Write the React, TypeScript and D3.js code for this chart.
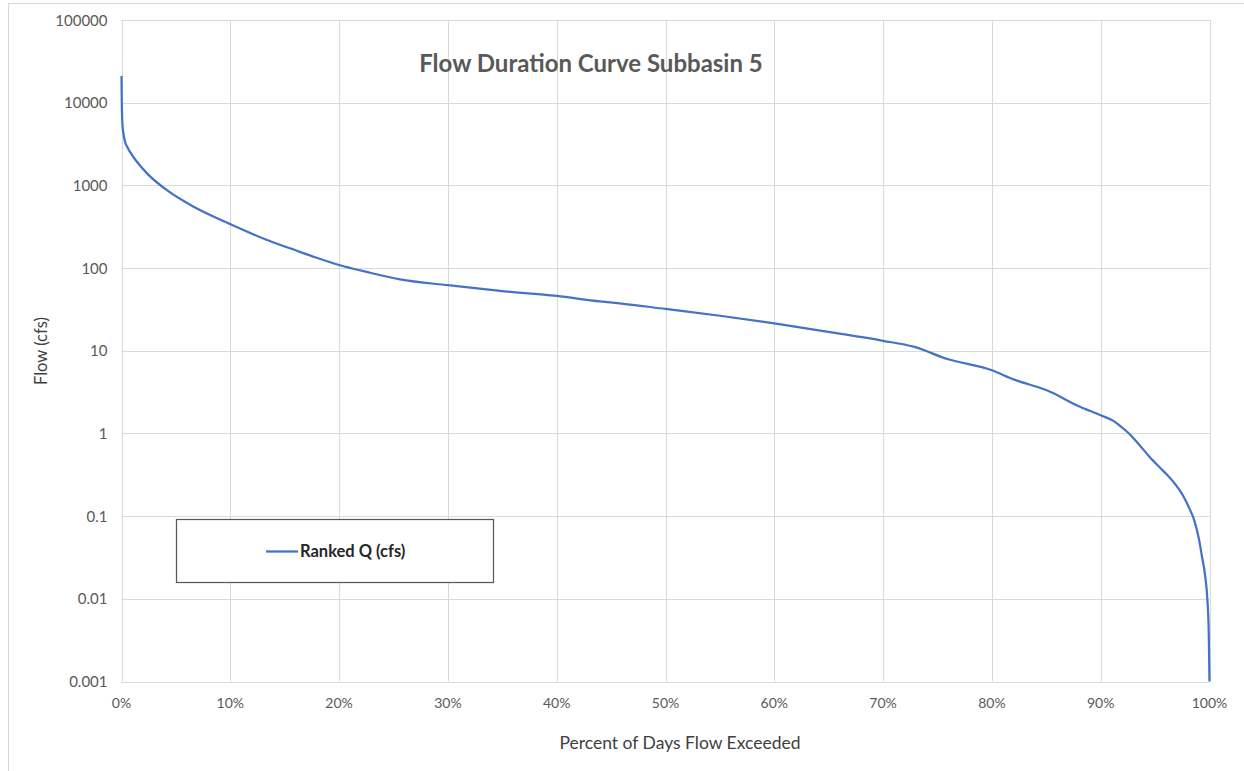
import React, { useRef, useEffect } from 'react';
import * as d3 from 'd3';

// ranked flow: percent of days exceeded vs flow (cfs)
const exceedPct = [
  0, 0.03, 0.08, 0.17, 0.32, 0.6, 0.94, 1.6, 2.46, 4.3, 6.76, 10, 13.2, 16.4,
  17.8, 20, 22.5, 25.6, 30, 34.8, 40, 44, 45.8, 50, 55, 60, 65.4, 70, 72.8,
  75.9, 80, 82, 85.1, 88.1, 90, 91.2, 91.8, 92.6, 93.5, 94.5, 95.5, 96.1, 97,
  97.6, 98.2, 98.6, 99, 99.3, 99.6, 99.8, 99.93, 100,
];
const flowCfs = [
  21000, 9500, 5600, 4300, 3400, 2800, 2360, 1800, 1350, 850, 540, 340, 223,
  157, 135, 109, 90, 73, 62, 53, 46, 39.5, 37.5, 32, 26.5, 21.4, 16.6, 13.2,
  11.2, 7.95, 5.8, 4.5, 3.3, 2.1, 1.66, 1.41, 1.23, 1.0, 0.74, 0.52, 0.38,
  0.316, 0.229, 0.174, 0.12, 0.089, 0.055, 0.033, 0.019, 0.01, 0.004, 0.001,
];

const yTicks = [0.001, 0.01, 0.1, 1, 10, 100, 1000, 10000, 100000];
const xTicks = [0, 10, 20, 30, 40, 50, 60, 70, 80, 90, 100];

const title = 'Flow Duration Curve Subbasin 5';
const xTitle = 'Percent of Days Flow Exceeded';
const yTitle = 'Flow (cfs)';
const seriesName = 'Ranked Q (cfs)';

function App() {
  const svgRef = useRef(null);
  const width = 1244;
  const height = 771;
  const margin = { left: 121.5, right: 34.5, top: 20, bottom: 89.5 };
  const font = 'Lato, "Open Sans", sans-serif';
  const textColor = '#595959';

  useEffect(() => {
    const svg = d3.select(svgRef.current);
    svg.selectAll('*').remove();

    const x = d3
      .scaleLinear()
      .domain([0, 100])
      .range([margin.left, width - margin.right]);
    const y = d3
      .scaleLog()
      .domain([0.001, 100000])
      .range([height - margin.bottom, margin.top]);

    // chart area border
    svg
      .append('rect')
      .attr('x', 8.5)
      .attr('y', 3.5)
      .attr('width', 1300)
      .attr('height', 800)
      .attr('fill', 'white')
      .attr('stroke', '#d9d9d9');

    // grid
    svg
      .append('g')
      .selectAll('line')
      .data(yTicks)
      .enter()
      .append('line')
      .attr('x1', x(0))
      .attr('x2', x(100))
      .attr('y1', (d) => Math.round(y(d)) + 0.5)
      .attr('y2', (d) => Math.round(y(d)) + 0.5)
      .attr('stroke', '#d9d9d9')
      .attr('stroke-width', 1);

    svg
      .append('g')
      .selectAll('line')
      .data(xTicks)
      .enter()
      .append('line')
      .attr('x1', (d) => Math.round(x(d)) + 0.5)
      .attr('x2', (d) => Math.round(x(d)) + 0.5)
      .attr('y1', y(100000))
      .attr('y2', y(0.001))
      .attr('stroke', '#d9d9d9')
      .attr('stroke-width', 1);

    // tick labels
    svg
      .append('g')
      .selectAll('text')
      .data(yTicks)
      .enter()
      .append('text')
      .text((d) => String(d))
      .attr('x', margin.left - 14)
      .attr('y', (d) => y(d) + 5.5)
      .attr('text-anchor', 'end')
      .attr('font-family', font)
      .attr('font-size', '15px')
      .attr('fill', textColor);

    svg
      .append('g')
      .selectAll('text')
      .data(xTicks)
      .enter()
      .append('text')
      .text((d) => d + '%')
      .attr('x', (d) => x(d))
      .attr('y', height - margin.bottom + 26)
      .attr('text-anchor', 'middle')
      .attr('font-family', font)
      .attr('font-size', '14px')
      .attr('fill', textColor);

    // the curve
    const line = d3
      .line()
      .x((d) => x(d[0]))
      .y((d) => y(d[1]))
      .curve(d3.curveMonotoneX);

    svg
      .append('path')
      .datum(exceedPct.map((p, i) => [p, flowCfs[i]]))
      .attr('d', line)
      .attr('fill', 'none')
      .attr('stroke', '#4472c4')
      .attr('stroke-width', 2.25)
      .attr('stroke-linejoin', 'round');

    // titles
    svg
      .append('text')
      .text(title)
      .attr('x', 591)
      .attr('y', 72)
      .attr('text-anchor', 'middle')
      .attr('font-family', font)
      .attr('font-weight', 'bold')
      .attr('font-size', '24px')
      .attr('fill', textColor);

    svg
      .append('text')
      .text(xTitle)
      .attr('x', 680)
      .attr('y', 749)
      .attr('text-anchor', 'middle')
      .attr('font-family', font)
      .attr('font-size', '17.5px')
      .attr('fill', '#404040');

    svg
      .append('text')
      .text(yTitle)
      .attr('transform', 'translate(47,351) rotate(-90)')
      .attr('text-anchor', 'middle')
      .attr('font-family', font)
      .attr('font-size', '16.5px')
      .attr('fill', '#404040');

    // legend
    const legend = svg.append('g');
    legend
      .append('rect')
      .attr('x', 176.5)
      .attr('y', 519.5)
      .attr('width', 317)
      .attr('height', 63)
      .attr('fill', 'white')
      .attr('stroke', '#595959')
      .attr('stroke-width', 1.25);
    legend
      .append('line')
      .attr('x1', 266)
      .attr('x2', 298)
      .attr('y1', 551.5)
      .attr('y2', 551.5)
      .attr('stroke', '#4472c4')
      .attr('stroke-width', 2.25);
    legend
      .append('text')
      .text(seriesName)
      .attr('x', 300)
      .attr('y', 557)
      .attr('font-family', font)
      .attr('font-weight', 'bold')
      .attr('font-size', '16.5px')
      .attr('fill', '#262626');
  }, []);

  return (
    <svg
      ref={svgRef}
      width={width}
      height={height}
      style={{ position: 'absolute', left: 0, top: 0, background: 'white' }}
    ></svg>
  );
}

export default App;
